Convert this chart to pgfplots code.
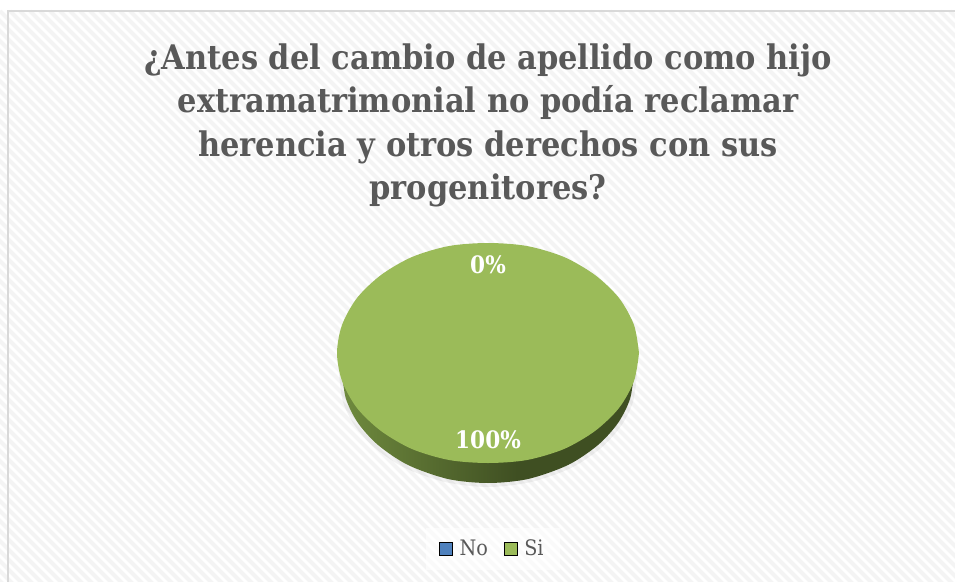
\documentclass[border=0pt]{standalone}
\usepackage{pgfplots}
\pgfplotsset{compat=1.18}
\usepackage{fontspec}
\setmainfont{DejaVu Serif Condensed}
\definecolor{titlegray}{HTML}{595959}
\definecolor{piegreen}{HTML}{9BBB59}
\definecolor{noblue}{HTML}{4F81BD}
\definecolor{stripe}{HTML}{F4F4F4}
\definecolor{frame}{HTML}{D9D9D9}
\definecolor{sidelight}{HTML}{6F8A3E}
\definecolor{sidedark}{HTML}{3F4F22}
\pgfdeclarehorizontalshading{pieside}{100bp}{color(0bp)=(sidelight);color(25bp)=(sidelight);color(55bp)=(sidedark);color(100bp)=(sidedark)}
\begin{document}
\begin{tikzpicture}
\useasboundingbox (0,0) rectangle (716.25pt,435.75pt);
\begin{axis}[
  at={(0,0)}, anchor=south west,
  scale only axis, width=716.25pt, height=435.75pt,
  xmin=0, xmax=955, ymin=0, ymax=581, y dir=reverse,
  hide axis, clip=true,
  legend cell align=left,
  legend image code/.code={\draw[#1,fill opacity=1] (0pt,-4.5pt) rectangle (9.75pt,5.25pt);\path (13pt,0pt);},
  legend style={at={(0.516,0.055)},anchor=center,draw=none,fill=white,fill opacity=0.6,text opacity=1,inner xsep=10pt,inner ysep=7pt,
    legend columns=4,font=\fontsize{16}{18}\selectfont,text=titlegray,
    /tikz/column 2/.style={column sep=10pt}},
]
% panel stripes
\pgfplotsinvokeforeach{-600,-590,...,960}{
  \draw[stripe,line width=3pt] (axis cs:{#1},11) -- (axis cs:{#1+590},601);
}
% frame (left and top edges only)
\addplot[draw=frame,line width=1.5pt,forget plot] coordinates {(7.5,590)(7.5,11.5)(960,11.5)};
% shadow, pie side and top
\addplot[fill=black,fill opacity=0.05,draw=none,smooth,forget plot] coordinates {
(339,373)(343,402)(355,426)(375,448)(405,468)(445,482)(488,487)(531,482)(571,468)(601,448)(621,426)(633,402)(637,373)};
\addplot[shading=pieside,draw=none,smooth,forget plot] coordinates {
(342,373)(346,399)(358,423)(378,445)(408,465)(448,479)(488,483)(528,479)(568,465)(598,445)(618,423)(630,399)(634,373)};
\addplot[fill=piegreen,draw=none,smooth,forget plot] coordinates {
(639,353)(634,381)(619,408)(595,431)(564,449)(527,460)(488,463)(449,460)(412,449)(381,431)(357,408)(342,381)(337,353)(342,325)(357,298)(381,275)(412,257)(449,246)(488,243)(527,246)(564,257)(595,275)(619,298)(634,325)(639,353)};
\node[font=\bfseries\fontsize{18}{20}\selectfont,text=white] at (axis cs:488,265) {0\%};
\node[font=\bfseries\fontsize{18}{20}\selectfont,text=white] at (axis cs:488,440) {100\%};
\node[font=\bfseries\fontsize{25.4}{32.6}\selectfont,text=titlegray,align=center,anchor=north] at (axis cs:488,39)
 {¿Antes del cambio de apellido como hijo\\extramatrimonial no podía reclamar\\herencia y otros derechos con sus\\progenitores?};
\addlegendimage{fill=noblue,draw=none}
\addlegendentry{No}
\addlegendimage{fill=piegreen,draw=none}
\addlegendentry{Si}
\end{axis}
\end{tikzpicture}
\end{document}
